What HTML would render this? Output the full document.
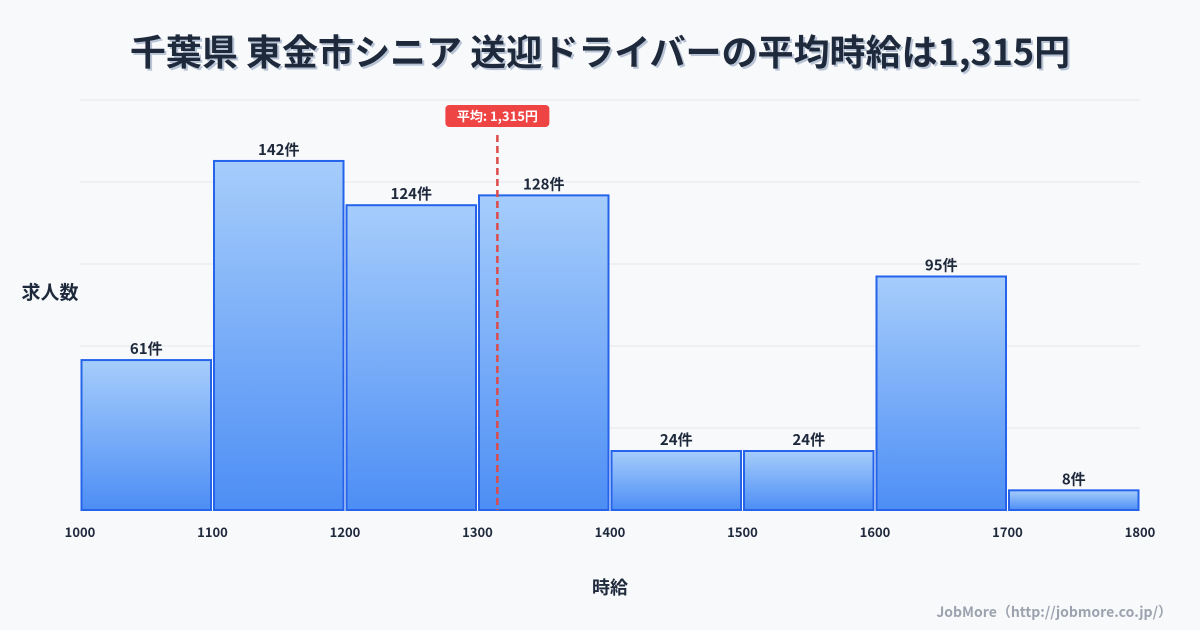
<!DOCTYPE html>
<html><head><meta charset="utf-8"><style>
body{margin:0;width:1200px;height:630px;background:#f8f9fb;overflow:hidden;font-family:"Liberation Sans","Noto Sans CJK JP",sans-serif;}
svg{position:absolute;left:0;top:0}
</style></head><body>
<svg id="c" width="1200" height="630">
<defs><linearGradient id="g" x1="0" y1="0" x2="0" y2="1"><stop offset="0" stop-color="#a6cdfb"/><stop offset="1" stop-color="#4d8ef5"/></linearGradient></defs>
<text x="600" y="65" text-anchor="middle" font-size="36" font-weight="bold" fill="#b8c4d6" font-family="'Noto Sans CJK JP',sans-serif" transform="translate(2,2)">千葉県 東金市シニア 送迎ドライバーの平均時給は1,315円</text>
<text x="600" y="65" text-anchor="middle" font-size="36" font-weight="bold" fill="#1e293b" font-family="'Noto Sans CJK JP',sans-serif">千葉県 東金市シニア 送迎ドライバーの平均時給は1,315円</text>
<g id="grid"></g><g id="bars"></g><g id="xt"></g>
<text x="50" y="299" text-anchor="middle" font-size="19" font-weight="bold" fill="#1e293b" font-family="'Noto Sans CJK JP',sans-serif">求人数</text>
<text x="610" y="594" text-anchor="middle" font-size="18" font-weight="bold" fill="#1e293b" font-family="'Noto Sans CJK JP',sans-serif">時給</text>
<text x="1172" y="617" text-anchor="end" font-size="14" font-weight="bold" fill="#9ca3af" font-family="'Noto Sans CJK JP',sans-serif">JobMore（http://jobmore.co.jp/）</text>
</svg>
<script>
const binStarts=[1000,1100,1200,1300,1400,1500,1600,1700];
const counts=[61,142,124,128,24,24,95,8];
const xTicks=[1000,1100,1200,1300,1400,1500,1600,1700,1800];
const meanValue=1315;
const NS='http://www.w3.org/2000/svg';
const X0=80,X1=1140,Y0=510,Y1=100,XMIN=1000,XMAX=1800,YMAX=166.8;
const x=v=>X0+(v-XMIN)/(XMAX-XMIN)*(X1-X0);
const y=v=>Y0-v/YMAX*(Y0-Y1);
function mk(t,a,p){const e=document.createElementNS(NS,t);for(const k in a)e.setAttribute(k,a[k]);p.appendChild(e);return e;}
const grid=document.getElementById('grid');
for(let i=0;i<=5;i++){const gy=Y0-i*(Y0-Y1)/5;const l=mk('line',{x1:X0,x2:X1,y1:gy,y2:gy,stroke:'#e3e7ec','stroke-width':1},grid);

}
const bars=document.getElementById('bars');
binStarts.forEach((b,i)=>{const xl=x(b)+1.5,xr=x(b+100)-1.5,yt=y(counts[i]);
const r=mk('rect',{x:xl,y:yt,width:xr-xl,height:Y0-yt,fill:'url(#g)',stroke:'#2563eb','stroke-width':2},bars);


const t=mk('text',{x:(xl+xr)/2,y:yt-6,'text-anchor':'middle','font-size':15,'font-weight':'bold',fill:'#1e293b','font-family':"'Noto Sans CJK JP',sans-serif"},bars);
t.textContent=counts[i]+'件';

});
const xt=document.getElementById('xt');
xTicks.forEach(v=>{const t=mk('text',{x:x(v),y:537,'text-anchor':'middle','font-size':13,'font-weight':'bold',fill:'#1e293b','font-family':"'Noto Sans CJK JP',sans-serif"},xt);
t.textContent=v;

});
const mx=x(meanValue);
const ml=mk('line',{x1:mx,x2:mx,y1:135,y2:Y0,stroke:'#dc4a4a','stroke-width':2.5,'stroke-dasharray':'7,4'},xt);


const mb=mk('rect',{x:mx-52,y:105,width:104,height:22,rx:4,fill:'#ef4444'},xt);


const mt=mk('text',{x:mx,y:121,'text-anchor':'middle','font-size':13,'font-weight':'bold',fill:'#fff','font-family':"'Noto Sans CJK JP',sans-serif"},xt);
mt.textContent='平均: 1,315円';


</script>
</body></html>
